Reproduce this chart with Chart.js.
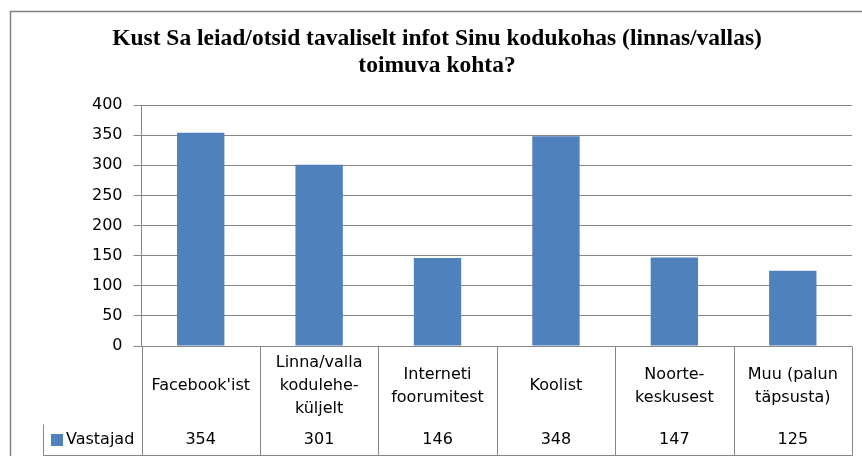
<!DOCTYPE html>
<html>
<head>
<meta charset="utf-8">
<script src="https://cdn.jsdelivr.net/npm/chart.js@4/dist/chart.umd.min.js"></script>
<style>
  body { margin: 0; background: #fff; }
  #wrap { width: 862px; height: 456px; position: relative; }
</style>
</head>
<body>
<div id="wrap"><canvas id="myChart"></canvas></div>
<script>
// data
var titleLines = ['Kust Sa leiad/otsid tavaliselt infot Sinu kodukohas (linnas/vallas)', 'toimuva kohta?'];
var categories = [
    ["Facebook'ist"],
    ['Linna/valla', 'kodulehe-', 'küljelt'],
    ['Interneti', 'foorumitest'],
    ['Koolist'],
    ['Noorte-', 'keskusest'],
    ['Muu (palun', 'täpsusta)']
];
var seriesName = 'Vastajad';
var vastajad = [354, 301, 146, 348, 147, 125];
var yMax = 400;
var yStep = 50;

var barColor = '#4f81bd';
var lineColor = '#868686';
var textFont = '16px "DejaVu Sans"';

// outer frame of the chart
var framePlugin = {
    id: 'frame',
    beforeDraw: function (chart) {
        var ctx = chart.ctx;
        ctx.save();
        ctx.fillStyle = '#fff';
        ctx.fillRect(0, 0, chart.width, chart.height);
        ctx.strokeStyle = '#808080';
        ctx.lineWidth = 1.5;
        ctx.strokeRect(10.5, 11.5, chart.width + 20, chart.height + 20);
        ctx.restore();
    }
};

// data table under the plot, positioned from the x scale
var tablePlugin = {
    id: 'dataTable',
    afterDraw: function (chart) {
        var ctx = chart.ctx;
        var x = chart.scales.x;
        var area = chart.chartArea;
        var top = Math.round(area.bottom) + 0.5;
        var bottom = 455.5;
        var legendLeft = 43.5;
        var legendTop = 424.5;
        var n = categories.length;

        ctx.save();
        ctx.strokeStyle = lineColor;
        ctx.lineWidth = 1;
        ctx.beginPath();
        for (var i = 0; i <= n; i++) {
            var bx = Math.round(x.getPixelForValue(i - 0.5)) + 0.5;
            ctx.moveTo(bx, top);
            ctx.lineTo(bx, bottom);
        }
        var rightEdge = Math.round(x.getPixelForValue(n - 0.5)) + 0.5;
        ctx.moveTo(legendLeft, bottom);
        ctx.lineTo(rightEdge, bottom);
        ctx.moveTo(legendLeft, legendTop);
        ctx.lineTo(legendLeft, bottom);
        ctx.stroke();

        ctx.fillStyle = '#000';
        ctx.font = textFont;
        ctx.textAlign = 'center';
        ctx.textBaseline = 'middle';
        var lh = 23;
        var midY = 386;
        for (var j = 0; j < n; j++) {
            var cx = x.getPixelForValue(j);
            var lines = categories[j];
            var y0 = midY - (lines.length - 1) * lh / 2;
            for (var k = 0; k < lines.length; k++) {
                ctx.fillText(lines[k], cx, y0 + k * lh);
            }
            ctx.fillText(String(vastajad[j]), cx, 440);
        }

        // legend key
        ctx.fillStyle = barColor;
        ctx.fillRect(51, 434, 12, 12);
        ctx.fillStyle = '#000';
        ctx.textAlign = 'left';
        ctx.fillText(seriesName, 66, 440);
        ctx.restore();
    }
};

var ctx = document.getElementById('myChart').getContext('2d');
var myChart = new Chart(ctx, {
    type: 'bar',
    data: {
        labels: categories,
        datasets: [{
            label: seriesName,
            data: vastajad,
            backgroundColor: barColor,
            borderWidth: 0,
            barPercentage: 0.4,
            categoryPercentage: 1
        }]
    },
    options: {
        responsive: true,
        maintainAspectRatio: false,
        animation: false,
        layout: {
            padding: { left: 22, right: 10, top: 0, bottom: 110 }
        },
        scales: {
            x: {
                display: false
            },
            y: {
                min: 0,
                max: yMax,
                ticks: {
                    stepSize: yStep,
                    padding: 11,
                    color: '#000',
                    font: { family: 'DejaVu Sans', size: 16 }
                },
                grid: {
                    color: lineColor,
                    tickLength: 8
                },
                border: {
                    color: lineColor
                },
                afterFit: function (scale) {
                    scale.width = 119.5;
                }
            }
        },
        plugins: {
            legend: { display: false },
            tooltip: { enabled: false },
            title: {
                display: true,
                text: titleLines,
                color: '#000',
                font: { family: 'Liberation Serif', size: 23.5, weight: 'bold', lineHeight: 27 / 23.5 },
                padding: { top: 25.5, bottom: 25.5 }
            }
        }
    },
    plugins: [framePlugin, tablePlugin]
});
</script>
</body>
</html>
